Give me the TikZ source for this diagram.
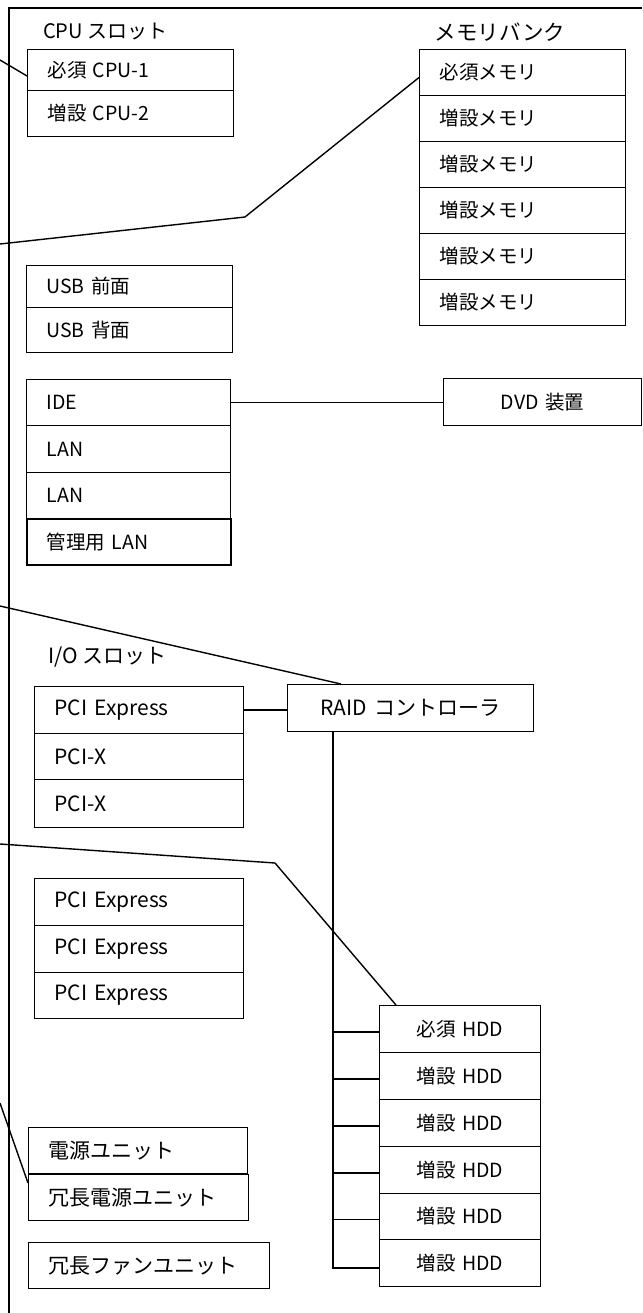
\documentclass[tikz,border=0pt]{standalone}
\usepackage{fontspec}
\setmainfont{Noto Sans CJK JP}
\usetikzlibrary{calc}
\tikzset{
  box/.style={draw, line width=1pt, inner ysep=0pt, anchor=north west, font=\fontsize{19.5}{22}\selectfont},
  lbox/.style={box, inner xsep=20pt, align=left},
  cbox/.style={box, inner xsep=0pt, align=center},
  bigtext/.style={font=\fontsize{21}{23}\selectfont},
  grouplabel/.style={font=\fontsize{20}{22}\selectfont, inner sep=0pt},
  leader/.style={line width=1.4pt},
  link/.style={line width=1.1pt},
  frameline/.style={line width=2.8pt}
}
\begin{document}
\begin{tikzpicture}[x=1pt,y=-1pt]
\useasboundingbox (0,0) rectangle (642,1313);
% frame
\coordinate (fbl) at (9,1313);
\coordinate (ftl) at (9,8);
\coordinate (ftr) at (642,8);
\draw[frameline] (fbl) -- (ftl) -- (ftr);

% group labels
\node[grouplabel, anchor=west] (cpulbl) at (43,32) {CPU スロット};
\node[grouplabel, font=\fontsize{21.5}{23}\selectfont] (memlbl) at (500,32) {メモリバンク};
\node[grouplabel, anchor=west, font=\fontsize{21}{23}\selectfont] (iolbl) at (48,657) {I/O スロット};

% CPU
\node[lbox, text width=166pt, minimum height=41pt] (cpu1) at (27,49) {必須 CPU-1};
\node[lbox, text width=166pt, minimum height=46pt] (cpu2) at (27,90) {増設 CPU-2};

% memory
\begin{scope}[every node/.append style={font=\fontsize{18.5}{22}\selectfont}]
\node[lbox, text width=166pt, minimum height=46pt] (mem1) at (419,49) {必須メモリ};
\node[lbox, text width=166pt, minimum height=46pt] (mem2) at (419,95) {増設メモリ};
\node[lbox, text width=166pt, minimum height=46pt] (mem3) at (419,141) {増設メモリ};
\node[lbox, text width=166pt, minimum height=46pt] (mem4) at (419,187) {増設メモリ};
\node[lbox, text width=166pt, minimum height=46pt] (mem5) at (419,233) {増設メモリ};
\node[lbox, text width=166pt, minimum height=46pt] (mem6) at (419,279) {増設メモリ};
\end{scope}

% USB
\node[lbox, text width=166pt, minimum height=42pt] (usb1) at (26,265) {USB 前面};
\node[lbox, text width=166pt, minimum height=45pt] (usb2) at (26,307) {USB 背面};

% IDE / LAN
\node[lbox, text width=164pt, minimum height=46pt] (ide) at (26,379) {IDE};
\node[lbox, text width=164pt, minimum height=47pt] (lan1) at (26,425) {LAN};
\node[lbox, text width=164pt, minimum height=46pt] (lan2) at (26,472) {LAN};
\node[lbox, text width=164pt, minimum height=46pt, line width=1.6pt] (mlan) at (26,518) {管理用 LAN};

% DVD
\node[cbox, text width=198pt, minimum height=47pt] (dvd) at (443,378) {DVD 装置};

% PCI slots
\node[lbox, text width=169pt, minimum height=47pt, bigtext] (pcie1) at (34,686) {PCI Express};
\node[lbox, text width=169pt, minimum height=46pt, bigtext] (pcix1) at (34,733) {PCI-X};
\node[lbox, text width=169pt, minimum height=48pt, bigtext] (pcix2) at (34,779) {PCI-X};

\node[cbox, text width=246pt, minimum height=47pt, bigtext] (raid) at (287,684) {RAID コントローラ};

\node[lbox, text width=169pt, minimum height=47pt, bigtext] (pcie2) at (34,878) {PCI Express};
\node[lbox, text width=169pt, minimum height=47pt, bigtext] (pcie3) at (34,925) {PCI Express};
\node[lbox, text width=169pt, minimum height=46pt, bigtext] (pcie4) at (34,972) {PCI Express};

% power / fan
\node[lbox, text width=179pt, minimum height=46pt, bigtext] (psu) at (28,1127) {電源ユニット};
\node[lbox, text width=180pt, minimum height=46pt, bigtext] (rpsu) at (28,1174) {冗長電源ユニット};
\node[lbox, text width=201pt, minimum height=46pt, bigtext] (fan) at (28,1242) {冗長ファンユニット};

% HDD
\node[cbox, text width=161pt, minimum height=47pt] (hdd1) at (379,1005) {必須 HDD};
\node[cbox, text width=161pt, minimum height=47pt] (hdd2) at (379,1052) {増設 HDD};
\node[cbox, text width=161pt, minimum height=47pt] (hdd3) at (379,1099) {増設 HDD};
\node[cbox, text width=161pt, minimum height=47pt] (hdd4) at (379,1146) {増設 HDD};
\node[cbox, text width=161pt, minimum height=46pt] (hdd5) at (379,1193) {増設 HDD};
\node[cbox, text width=161pt, minimum height=47pt] (hdd6) at (379,1239) {増設 HDD};

% connectors
\draw[link] (ide.east) -- (dvd.west |- ide.east);
\draw[link] (pcie1.east) -- (raid.west |- pcie1.east);
\coordinate (sptop) at ([xshift=46pt]raid.south west);
\draw[link] (sptop) -- ([yshift=-5pt]sptop |- hdd6.west) -- ([yshift=-5pt]hdd6.west);
\foreach \h in {hdd1,hdd2,hdd3,hdd4,hdd5}
  \draw[link] ([yshift=-3pt]sptop |- \h.west) -- ([yshift=-3pt]\h.west);

% leader lines from outside
\coordinate (l1) at (0,60);
\draw[leader] (l1) -- ([yshift=-6pt]cpu1.west);
\coordinate (l2) at (0,244);
\coordinate (b2) at (245,217);
\draw[leader] (l2) -- (b2) -- ([yshift=-5pt]mem1.west);
\coordinate (l3) at (0,606);
\draw[leader] (l3) -- ([xshift=54pt]raid.north west);
\coordinate (l4) at (0,844);
\coordinate (b4) at (275,863);
\draw[leader] (l4) -- (b4) -- ([xshift=17pt]hdd1.north west);
\coordinate (l5) at (0,1103);
\draw[leader] (l5) -- ([yshift=-9pt]rpsu.north west);
\end{tikzpicture}
\end{document}
